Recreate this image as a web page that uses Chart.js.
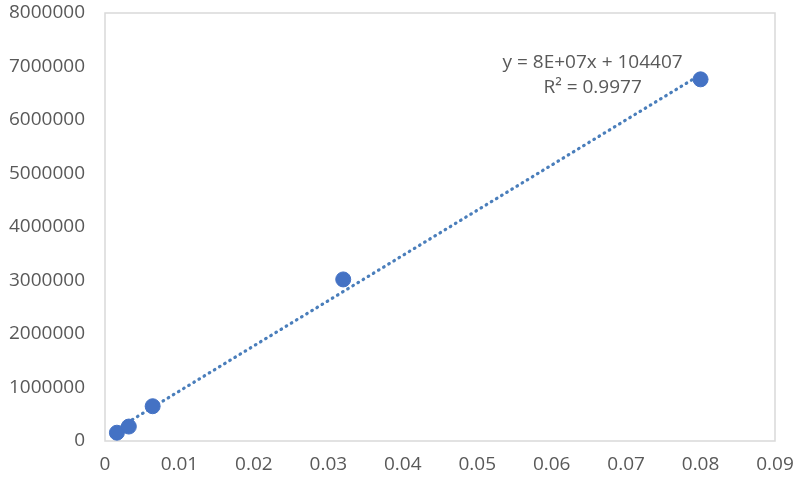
<!DOCTYPE html>
<html>
<head>
<meta charset="utf-8">
<script src="https://cdn.jsdelivr.net/npm/chart.js@4"></script>
<style>
html,body{margin:0;padding:0;background:#fff;}
#wrap{width:800px;height:485px;position:relative;}
</style>
</head>
<body>
<div id="wrap"><canvas id="c" width="800" height="485"></canvas></div>
<script>
const xValues = [0.0016, 0.0032, 0.0064, 0.032, 0.08];
const yValues = [155000, 270000, 650000, 3020000, 6760000];
const xTicks = [0, 0.01, 0.02, 0.03, 0.04, 0.05, 0.06, 0.07, 0.08, 0.09];
const yTicks = [0, 1000000, 2000000, 3000000, 4000000, 5000000, 6000000, 7000000, 8000000];
const equationLabel = "y = 8E+07x + 104407";
const r2Label = "R² = 0.9977";

// least squares trendline from the data
const n = xValues.length;
const mx = xValues.reduce((a,b)=>a+b,0)/n;
const my = yValues.reduce((a,b)=>a+b,0)/n;
let sxy=0,sxx=0;
for(let i=0;i<n;i++){sxy+=(xValues[i]-mx)*(yValues[i]-my);sxx+=(xValues[i]-mx)**2;}
const slope = sxy/sxx, intercept = my - slope*mx;
const xMin = Math.min(...xValues), xMax = Math.max(...xValues);
const trend = [{x:xMin,y:slope*xMin+intercept},{x:xMax,y:slope*xMax+intercept}];

const FONT = "'Open Sans', sans-serif";
const boxPlugin = {
  id:'box',
  beforeDatasetsDraw(chart){
    const {ctx, chartArea:a} = chart;
    ctx.save();
    ctx.strokeStyle='#d9d9d9';
    ctx.lineWidth=1.5;
    ctx.strokeRect(a.left, a.top, a.right-a.left, a.bottom-a.top);
    ctx.restore();
  },
  afterDatasetsDraw(chart){
    const {ctx, chartArea:a} = chart;
    const xs = chart.scales.x;
    const cx = xs.getPixelForValue(0.0655);
    ctx.save();
    ctx.fillStyle='#595959';
    ctx.font = "19px "+FONT;
    ctx.textAlign='center';
    ctx.textBaseline='middle';
    ctx.fillText(equationLabel, cx, a.top + 50);
    ctx.fillText(r2Label, cx, a.top + 75);
    ctx.restore();
  }
};

new Chart(document.getElementById('c'), {
  type:'scatter',
  data:{datasets:[
    {data:trend, type:'line', showLine:true, borderColor:'#4a7ebb', borderWidth:3.2, borderDash:[0.6,5.4], borderCapStyle:'round', pointRadius:0, fill:false, order:2},
    {data:xValues.map((x,i)=>({x, y:yValues[i]})), backgroundColor:'#4472c4', borderColor:'#4472c4', pointRadius:7.5, pointHoverRadius:7.5, order:1}
  ]},
  plugins:[boxPlugin],
  options:{
    responsive:false, animation:false,
    layout:{padding:{top:13, right:25, left:0, bottom:0}},
    plugins:{legend:{display:false}, tooltip:{enabled:false}},
    scales:{
      x:{type:'linear', min:0, max:0.09,
        afterBuildTicks(s){ s.ticks = xTicks.map(v=>({value:v})); },
        afterFit(s){ s.height = 44; s.paddingLeft = 0; s.paddingRight = 0; },
        grid:{display:false, drawTicks:false}, border:{display:false},
        ticks:{color:'#595959', font:{size:19, family:FONT}, padding:12, callback:v=>String(+v.toFixed(2))}
      },
      y:{type:'linear', min:0, max:8000000,
        afterBuildTicks(s){ s.ticks = yTicks.map(v=>({value:v})); },
        afterFit(s){ s.width = 105; s.paddingTop = 0; s.paddingBottom = 0; },
        grid:{display:false, drawTicks:false}, border:{display:false},
        ticks:{color:'#595959', font:{size:19, family:FONT}, padding:20, callback:v=>String(v)}
      }
    }
  }
});
</script>
</body>
</html>
